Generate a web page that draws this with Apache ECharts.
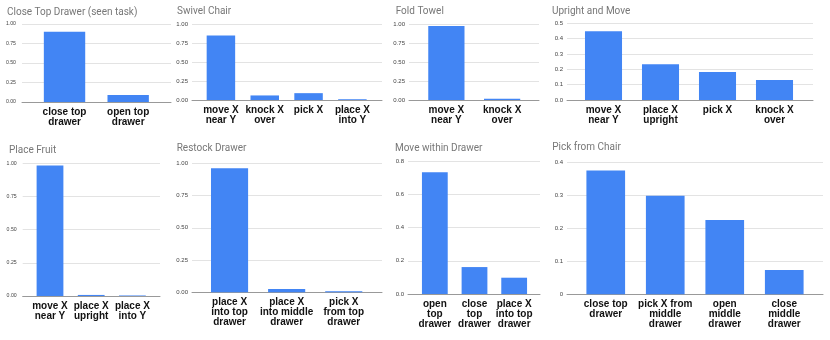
<!DOCTYPE html>
<html>
<head>
<meta charset="utf-8">
<script src="https://cdn.jsdelivr.net/npm/echarts@6/dist/echarts.min.js"></script>
<style>
html,body{margin:0;padding:0;background:#fff;}
#c{width:830px;height:340px;}
</style>
</head>
<body>
<div id="c"></div>
<script>
// ---- data ----
const titles = ["Close Top Drawer (seen task)", "Swivel Chair", "Fold Towel", "Upright and Move",
                "Place Fruit", "Restock Drawer", "Move within Drawer", "Pick from Chair"];

const cats1 = ["close top\ndrawer", "open top\ndrawer"];
const vals1 = [0.90, 0.09];

const cats2 = ["move X\nnear Y", "knock X\nover", "pick X", "place X\ninto Y"];
const vals2 = [0.85, 0.06, 0.09, 0.01];

const cats3 = ["move X\nnear Y", "knock X\nover"];
const vals3 = [0.975, 0.018];

const cats4 = ["move X\nnear Y", "place X\nupright", "pick X", "knock X\nover"];
const vals4 = [0.448, 0.233, 0.183, 0.131];

const cats5 = ["move X\nnear Y", "place X\nupright", "place X\ninto Y"];
const vals5 = [0.983, 0.008, 0.004];

const cats6 = ["place X\ninto top\ndrawer", "place X\ninto middle\ndrawer", "pick X\nfrom top\ndrawer"];
const vals6 = [0.961, 0.026, 0.009];

const cats7 = ["open\ntop\ndrawer", "close\ntop\ndrawer", "place X\ninto top\ndrawer"];
const vals7 = [0.732, 0.162, 0.098];

const cats8 = ["close top\ndrawer", "pick X from\nmiddle\ndrawer", "open\nmiddle\ndrawer", "close\nmiddle\ndrawer"];
const vals8 = [0.375, 0.299, 0.225, 0.074];

const yMaxes = [1, 1, 1, 0.5, 1, 1, 0.8, 0.4];
const ySteps = [0.25, 0.25, 0.25, 0.1, 0.25, 0.25, 0.2, 0.1];
const yDecimals = [2, 2, 2, 1, 2, 2, 1, -1];

const cats = [cats1, cats2, cats3, cats4, cats5, cats6, cats7, cats8];
const vals = [vals1, vals2, vals3, vals4, vals5, vals6, vals7, vals8];

// ---- layout (pixels) ----
// [gridLineLeft, gridLineRight, axisLeft, axisRight, top, baseline, titleX, titleY, yLabelSize]
const layout = [
  [22, 171, 32.7, 160, 24, 102, 7, 7, 5.2],
  [192, 382, 199, 374.3, 24, 100, 177, 6, 6],
  [409, 539, 418.5, 530, 24, 100, 395.7, 6, 6],
  [567, 813, 575, 803, 23.3, 100, 552, 6, 6],
  [22.7, 160, 29.4, 153, 163.3, 296, 9, 145, 5.2],
  [192, 382, 201, 372.3, 163.3, 292.3, 176.7, 143, 6],
  [408, 540, 415, 534, 161, 294, 395, 143, 6],
  [567, 823, 576, 814, 162.3, 294.3, 552.3, 142, 6]
];

const grid = [], xAxis = [], yAxis = [], series = [], title = [];
layout.forEach((L, i) => {
  const [gl, gr, al, ar, top, base, tx, ty, ls] = L;
  const h = base - top;
  // grid A: gridlines, baseline, y labels
  grid.push({left: gl, top: top, width: gr - gl, height: h, containLabel: false});
  // grid B: bars and category labels
  grid.push({left: al, top: top, width: ar - al, height: h, containLabel: false});
  const dec = yDecimals[i];
  yAxis.push({
    gridIndex: 2 * i, type: 'value', min: 0, max: yMaxes[i], interval: ySteps[i],
    axisLine: {show: false}, axisTick: {show: false},
    splitLine: {show: true, lineStyle: {color: '#e3e3e3', width: 1}},
    axisLabel: {
      fontFamily: 'Liberation Sans, Arial, sans-serif', fontSize: ls, color: '#444', margin: i === 0 || i === 4 ? 6 : 4,
      formatter: v => dec < 0 ? String(+v.toFixed(2)) : v.toFixed(dec)
    }
  });
  yAxis.push({gridIndex: 2 * i + 1, type: 'value', min: 0, max: yMaxes[i], show: false});
  xAxis.push({
    gridIndex: 2 * i, type: 'category', data: [''],
    axisLine: {show: true, lineStyle: {color: '#999', width: 1}},
    axisTick: {show: false}, axisLabel: {show: false}, splitLine: {show: false}
  });
  xAxis.push({
    gridIndex: 2 * i + 1, type: 'category', data: cats[i],
    axisLine: {show: false}, axisTick: {show: false},
    axisLabel: {
      interval: 0, fontFamily: 'Liberation Sans, Arial, sans-serif', fontWeight: 'bold',
      fontSize: 10, lineHeight: 10, color: '#111', margin: 5, align: 'center'
    }
  });
  series.push({
    type: 'bar', xAxisIndex: 2 * i + 1, yAxisIndex: 2 * i + 1, data: vals[i],
    barWidth: '65%', itemStyle: {color: '#4285F4'}, silent: true
  });
  title.push({
    text: titles[i], left: tx, top: ty, padding: 0,
    textStyle: {fontFamily: 'Roboto, Arial, sans-serif', fontWeight: 'normal', fontSize: 10, color: '#777'}
  });
});

const chart = echarts.init(document.getElementById('c'), null, {renderer: 'canvas'});
chart.setOption({animation: false, backgroundColor: '#fff', title, grid, xAxis, yAxis, series});
</script>
</body>
</html>
